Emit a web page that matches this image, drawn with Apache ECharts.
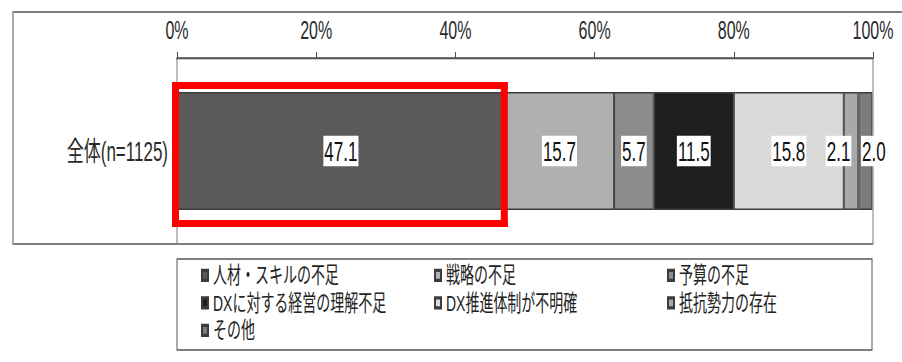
<!DOCTYPE html>
<html>
<head>
<meta charset="utf-8">
<script src="https://cdn.jsdelivr.net/npm/echarts@6/dist/echarts.min.js"></script>
<style>
  html, body { margin: 0; padding: 0; background: #fff; overflow: hidden; }
  #wrap { width: 902px; height: 362px; overflow: hidden; }
  /* the chart is laid out on a shorter canvas and stretched vertically,
     which gives the tall, narrow lettering of the printed survey figure */
  #chart { width: 902px; height: 226.25px; transform: scaleY(1.6); transform-origin: 0 0; }
</style>
</head>
<body>
<div id="wrap"><div id="chart"></div></div>
<script>
// ---- data ----
const categories = ['全体(n=1125)'];
const seriesNames = [
  '人材・スキルの不足',
  '戦略の不足',
  '予算の不足',
  'DXに対する経営の理解不足',
  'DX推進体制が不明確',
  '抵抗勢力の存在',
  'その他'
];
const seriesValues = [47.1, 15.7, 5.7, 11.5, 15.8, 2.1, 2.0];
const tickLabels = ['0%', '20%', '40%', '60%', '80%', '100%'];
const highlightedSeries = 0; // 人材・スキルの不足 is outlined in red

// ---- styling ----
const fills = ['#5a5a5a', '#b0b0b0', '#8c8c8c', '#1e1e1e', '#dadada', '#a9a9a9', '#7c7c7c'];
const labelShift = [0, 0, 0, 0, 0, -12.5, 8.5];
const legendColumns = [
  { left: 201, names: [seriesNames[0], seriesNames[3], seriesNames[6]] },
  { left: 434, names: [seriesNames[1], seriesNames[4]] },
  { left: 667, names: [seriesNames[2], seriesNames[5]] }
];
const SY = 1.6;              // vertical stretch applied by CSS
const BAR_W = 73.75;
const CJK = '"Liberation Sans", "Noto Sans CJK JP", sans-serif';
const LATIN = '"Liberation Sans", Arial, sans-serif';

const chart = echarts.init(document.getElementById('chart'), null, { renderer: 'svg' });

const series = seriesNames.map((name, i) => ({
  name: name,
  type: 'bar',
  stack: 'total',
  barWidth: BAR_W,
  data: [seriesValues[i]],
  itemStyle: { color: fills[i], borderColor: '#3c3c3c', borderWidth: 1 },
  label: {
    show: true,
    position: 'inside',
    offset: [labelShift[i], 0],
    formatter: p => p.value.toFixed(1),
    color: '#111',
    fontFamily: LATIN,
    fontSize: 17,
    lineHeight: 17,
    backgroundColor: '#fff',
    padding: [1.5, 1, 0.5, 1]
  },
  emphasis: { disabled: true }
}));

const legends = legendColumns.map(col => ({
  data: col.names,
  orient: 'vertical',
  left: col.left,
  top: 164.6,
  padding: 0,
  itemGap: 2.2,
  itemWidth: 6,
  itemHeight: 6.25,
  icon: 'rect',
  selectedMode: false,
  textStyle: { fontFamily: CJK, fontSize: 14, lineHeight: 15, color: '#222' }
}));

chart.setOption({
  animation: false,
  backgroundColor: '#fff',
  legend: legends,
  grid: {
    left: 177, right: 29, top: 36.25, height: 116.25,
    show: true, borderColor: '#7a7a7a', borderWidth: 1, backgroundColor: 'transparent'
  },
  xAxis: {
    type: 'value',
    position: 'top',
    min: 0, max: 100, interval: 20,
    axisLine: { show: true, lineStyle: { color: '#505050', width: 1.2 } },
    axisTick: { show: true, length: 3.75, lineStyle: { color: '#505050', width: 1 } },
    splitLine: { show: false },
    axisLabel: {
      margin: 9,
      color: '#2a2a2a',
      fontFamily: LATIN,
      fontSize: 16,
      formatter: v => tickLabels[Math.round(v / 20)]
    }
  },
  yAxis: {
    type: 'category',
    data: categories,
    inverse: true,
    axisLine: { show: false },
    axisTick: { show: false },
    axisLabel: { margin: 9, color: '#2a2a2a', fontFamily: CJK, fontSize: 17 }
  },
  series: series
});

// frame, legend box and the red outline around the highlighted segment
function drawDecorations() {
  const start = seriesValues.slice(0, highlightedSeries).reduce((a, b) => a + b, 0);
  const end = start + seriesValues[highlightedSeries];
  const pA = chart.convertToPixel({ xAxisIndex: 0, yAxisIndex: 0 }, [start, 0]);
  const pB = chart.convertToPixel({ xAxisIndex: 0, yAxisIndex: 0 }, [end, 0]);
  const barTop = pA[1] - BAR_W / 2;
  const barBottom = pA[1] + BAR_W / 2;
  const x0 = pA[0] - 5, x1 = pB[0] + 3;
  const y0 = barTop - 6.2, y1 = barBottom + 10.6;
  const tv = 7, th = 7 / SY;
  const red = { fill: '#ff0000' };
  chart.setOption({
    graphic: [
      {
        type: 'polyline', silent: true, z: 0,
        shape: { points: [[902, 7.5], [13, 7.5], [13, 152.5], [873, 152.5]] },
        style: { stroke: '#7f7f7f', lineWidth: 1.3, fill: null }
      },
      {
        type: 'rect', silent: true, z: 0,
        shape: { x: 177, y: 161.9, width: 695, height: 56.85 },
        style: { stroke: '#555', lineWidth: 1, fill: 'none' }
      },
      { type: 'rect', silent: true, z: 100, shape: { x: x0, y: y0, width: x1 - x0, height: th }, style: red },
      { type: 'rect', silent: true, z: 100, shape: { x: x0, y: y1 - th, width: x1 - x0, height: th }, style: red },
      { type: 'rect', silent: true, z: 100, shape: { x: x0, y: y0, width: tv, height: y1 - y0 }, style: red },
      { type: 'rect', silent: true, z: 100, shape: { x: x1 - tv, y: y0, width: tv, height: y1 - y0 }, style: red }
    ]
  });
}
drawDecorations();
</script>
</body>
</html>
